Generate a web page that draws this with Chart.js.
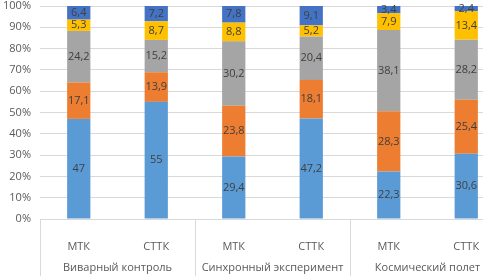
<!DOCTYPE html>
<html>
<head>
<meta charset="utf-8">
<script src="https://cdn.jsdelivr.net/npm/chart.js@4"></script>
<style>
  html, body { margin: 0; padding: 0; background: #fff; overflow: hidden; }
  #wrap { width: 505px; height: 276px; position: relative; }
</style>
</head>
<body>
<div id="wrap"><canvas id="chart"></canvas></div>
<script>
// --- data ---
const groups = ['Виварный контроль', 'Синхронный эксперимент', 'Космический полет'];
const subLabels = ['МТК', 'СТТК', 'МТК', 'СТТК', 'МТК', 'СТТК'];
const part1 = [47, 55, 29.4, 47.2, 22.3, 30.6];
const part2 = [17.1, 13.9, 23.8, 18.1, 28.3, 25.4];
const part3 = [24.2, 15.2, 30.2, 20.4, 38.1, 28.2];
const part4 = [5.3, 8.7, 8.8, 5.2, 7.9, 13.4];
const part5 = [6.4, 7.2, 7.8, 9.1, 3.4, 2.4];
const colors = ['#5B9BD5', '#ED7D31', '#A5A5A5', '#FFC000', '#4472C4'];

const FONT = '"Open Sans", "DejaVu Sans", sans-serif';
const TEXT = '#595959';

// labels inside the segments, decimal comma
const barLabels = {
    id: 'barLabels',
    afterDatasetsDraw(chart) {
        const ctx = chart.ctx;
        ctx.save();
        ctx.font = '11px ' + FONT;
        ctx.fillStyle = '#404040';
        ctx.textAlign = 'center';
        ctx.textBaseline = 'middle';
        chart.data.datasets.forEach((ds, i) => {
            chart.getDatasetMeta(i).data.forEach((el, j) => {
                const txt = String(ds.data[j]).replace('.', ',');
                ctx.fillText(txt, el.x, (el.y + el.base) / 2);
            });
        });
        ctx.restore();
    }
};

// second level of category labels + separators
const groupAxis = {
    id: 'groupAxis',
    afterDraw(chart) {
        const ctx = chart.ctx;
        const x = chart.scales.x;
        const area = chart.chartArea;
        const step = x.width / subLabels.length;
        ctx.save();
        ctx.strokeStyle = '#D9D9D9';
        ctx.lineWidth = 1;
        for (let g = 0; g < groups.length; g++) {
            const left = Math.round(x.getPixelForValue(g * 2) - step / 2) + 0.5;
            ctx.beginPath();
            ctx.moveTo(left, area.bottom);
            ctx.lineTo(left, chart.height);
            ctx.stroke();
        }
        ctx.font = '11px ' + FONT;
        ctx.fillStyle = TEXT;
        ctx.textAlign = 'center';
        ctx.textBaseline = 'middle';
        groups.forEach((name, g) => {
            const cx = (x.getPixelForValue(g * 2) + x.getPixelForValue(g * 2 + 1)) / 2;
            ctx.fillText(name, cx, 268);
        });
        ctx.restore();
    }
};

const parts = [part1, part2, part3, part4, part5];

new Chart(document.getElementById('chart'), {
    type: 'bar',
    data: {
        labels: subLabels,
        datasets: parts.map((p, i) => ({
            data: p,
            backgroundColor: colors[i],
            borderWidth: 0,
            barPercentage: 0.3,
            categoryPercentage: 1
        }))
    },
    options: {
        responsive: true,
        maintainAspectRatio: false,
        animation: false,
        layout: { padding: { top: 6, left: 0, right: 0, bottom: 0 } },
        plugins: { legend: { display: false }, tooltip: { enabled: false } },
        scales: {
            x: {
                stacked: true,
                grid: { display: false },
                border: { display: false },
                ticks: { color: TEXT, font: { family: FONT, size: 11 }, padding: 13, maxRotation: 0 },
                afterFit(s) { s.height = 57; }
            },
            y: {
                stacked: true,
                min: 0,
                max: 100,
                grid: { color: '#D9D9D9', drawTicks: false },
                border: { display: false },
                ticks: {
                    stepSize: 10,
                    color: TEXT,
                    padding: 9,
                    font: { family: FONT, size: 11 },
                    callback: v => v + '%'
                },
                afterFit(s) { s.width = 40; s.paddingTop = 0; s.paddingBottom = 0; }
            }
        }
    },
    plugins: [barLabels, groupAxis]
});
</script>
</body>
</html>
